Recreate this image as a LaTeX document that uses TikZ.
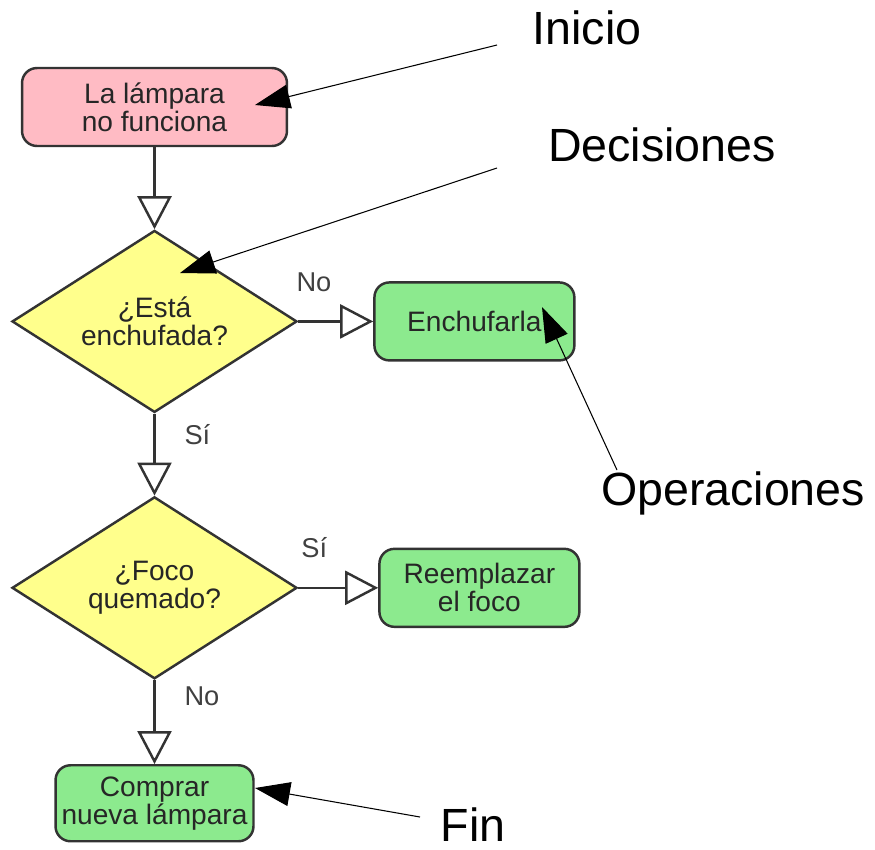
\documentclass[tikz,border=0pt]{standalone}
\usepackage{fontspec}
\setmainfont{Liberation Sans}
\usepackage{tikz}
\usetikzlibrary{arrows.meta, positioning, shapes.geometric}
\definecolor{lampPink}{HTML}{FFBBC4}
\definecolor{askYellow}{HTML}{FFFF8C}
\definecolor{doGreen}{HTML}{8CEA8E}
\definecolor{edgeGray}{HTML}{333333}

\begin{document}
\begin{tikzpicture}[x=0.02cm, y=-0.02cm,
  box/.style={draw=edgeGray, line width=1.4pt, rounded corners=0.3cm, minimum height=1.56cm, minimum width=4cm, align=center, font=\fontsize{16}{16}\selectfont, text=black!85},
  ask/.style={diamond, draw=edgeGray, line width=1.4pt, fill=askYellow, aspect=1.57, minimum width=5.7cm, minimum height=3.64cm, inner sep=0pt, align=center, font=\fontsize{16}{16}\selectfont, text=black!85},
  flow/.style={-{Triangle[fill=white, length=0.66cm, width=0.68cm]}, line width=1.4pt, draw=edgeGray},
  lbl/.style={font=\fontsize{15.5}{16}\selectfont, text=black!75},
  note/.style={-{Triangle[length=0.7cm, width=0.48cm]}, line width=0.6pt},
  big/.style={font=\fontsize{26.5}{30}\selectfont, inner sep=0pt}
]
  \useasboundingbox (0,0) rectangle (875,849);

  \node[box, fill=lampPink, minimum width=5.3cm] (start) at (154.5,107) {La lámpara\\no funciona};
  \node[ask, below=1.64cm of start] (plug) {¿Está\\enchufada?};
  \node[box, fill=doGreen, right=1.5cm of plug] (plugin) {Enchufarla};
  \node[ask, below=1.64cm of plug] (bulb) {¿Foco\\quemado?};
  \node[box, fill=doGreen, right=1.6cm of bulb] (swap) {Reemplazar\\el foco};
  \node[box, fill=doGreen, below=1.68cm of bulb, minimum width=3.96cm, minimum height=1.52cm] (buy) {Comprar\\nueva lámpara};

  \draw[flow] (start) -- (plug);
  \draw[flow] (plug) -- node[lbl, pos=0.21, above=0.45cm] {No} (plugin);
  \draw[flow] (plug) -- node[lbl, pos=0.26, right=0.46cm] {Sí} (bulb);
  \draw[flow] (bulb) -- node[lbl, pos=0.2, above=0.45cm] {Sí} (swap);
  \draw[flow] (bulb) -- node[lbl, pos=0.19, right=0.46cm] {No} (buy);

  % notes
  \node[big] (inicio) at (587,28) {Inicio};
  \node[big] (decis) at (662,145) {Decisiones};
  \node[big] (opera) at (733,493) {Operaciones};
  \node[big] (fin) at (473,825) {Fin};
  \coordinate (inicioTail) at (497,45);
  \coordinate (inicioTip) at (255,105);
  \coordinate (decisTail) at (497,168);
  \coordinate (decisTip) at (180,273);
  \coordinate (operaTail) at (617,470);
  \coordinate (operaTip) at (542,307);
  \coordinate (finTail) at (420,817);
  \coordinate (finTip) at (255,788);
  \draw[note] (inicioTail) -- (inicioTip);
  \draw[note] (decisTail) -- (decisTip);
  \draw[note] (operaTail) -- (operaTip);
  \draw[note] (finTail) -- (finTip);
\end{tikzpicture}
\end{document}
